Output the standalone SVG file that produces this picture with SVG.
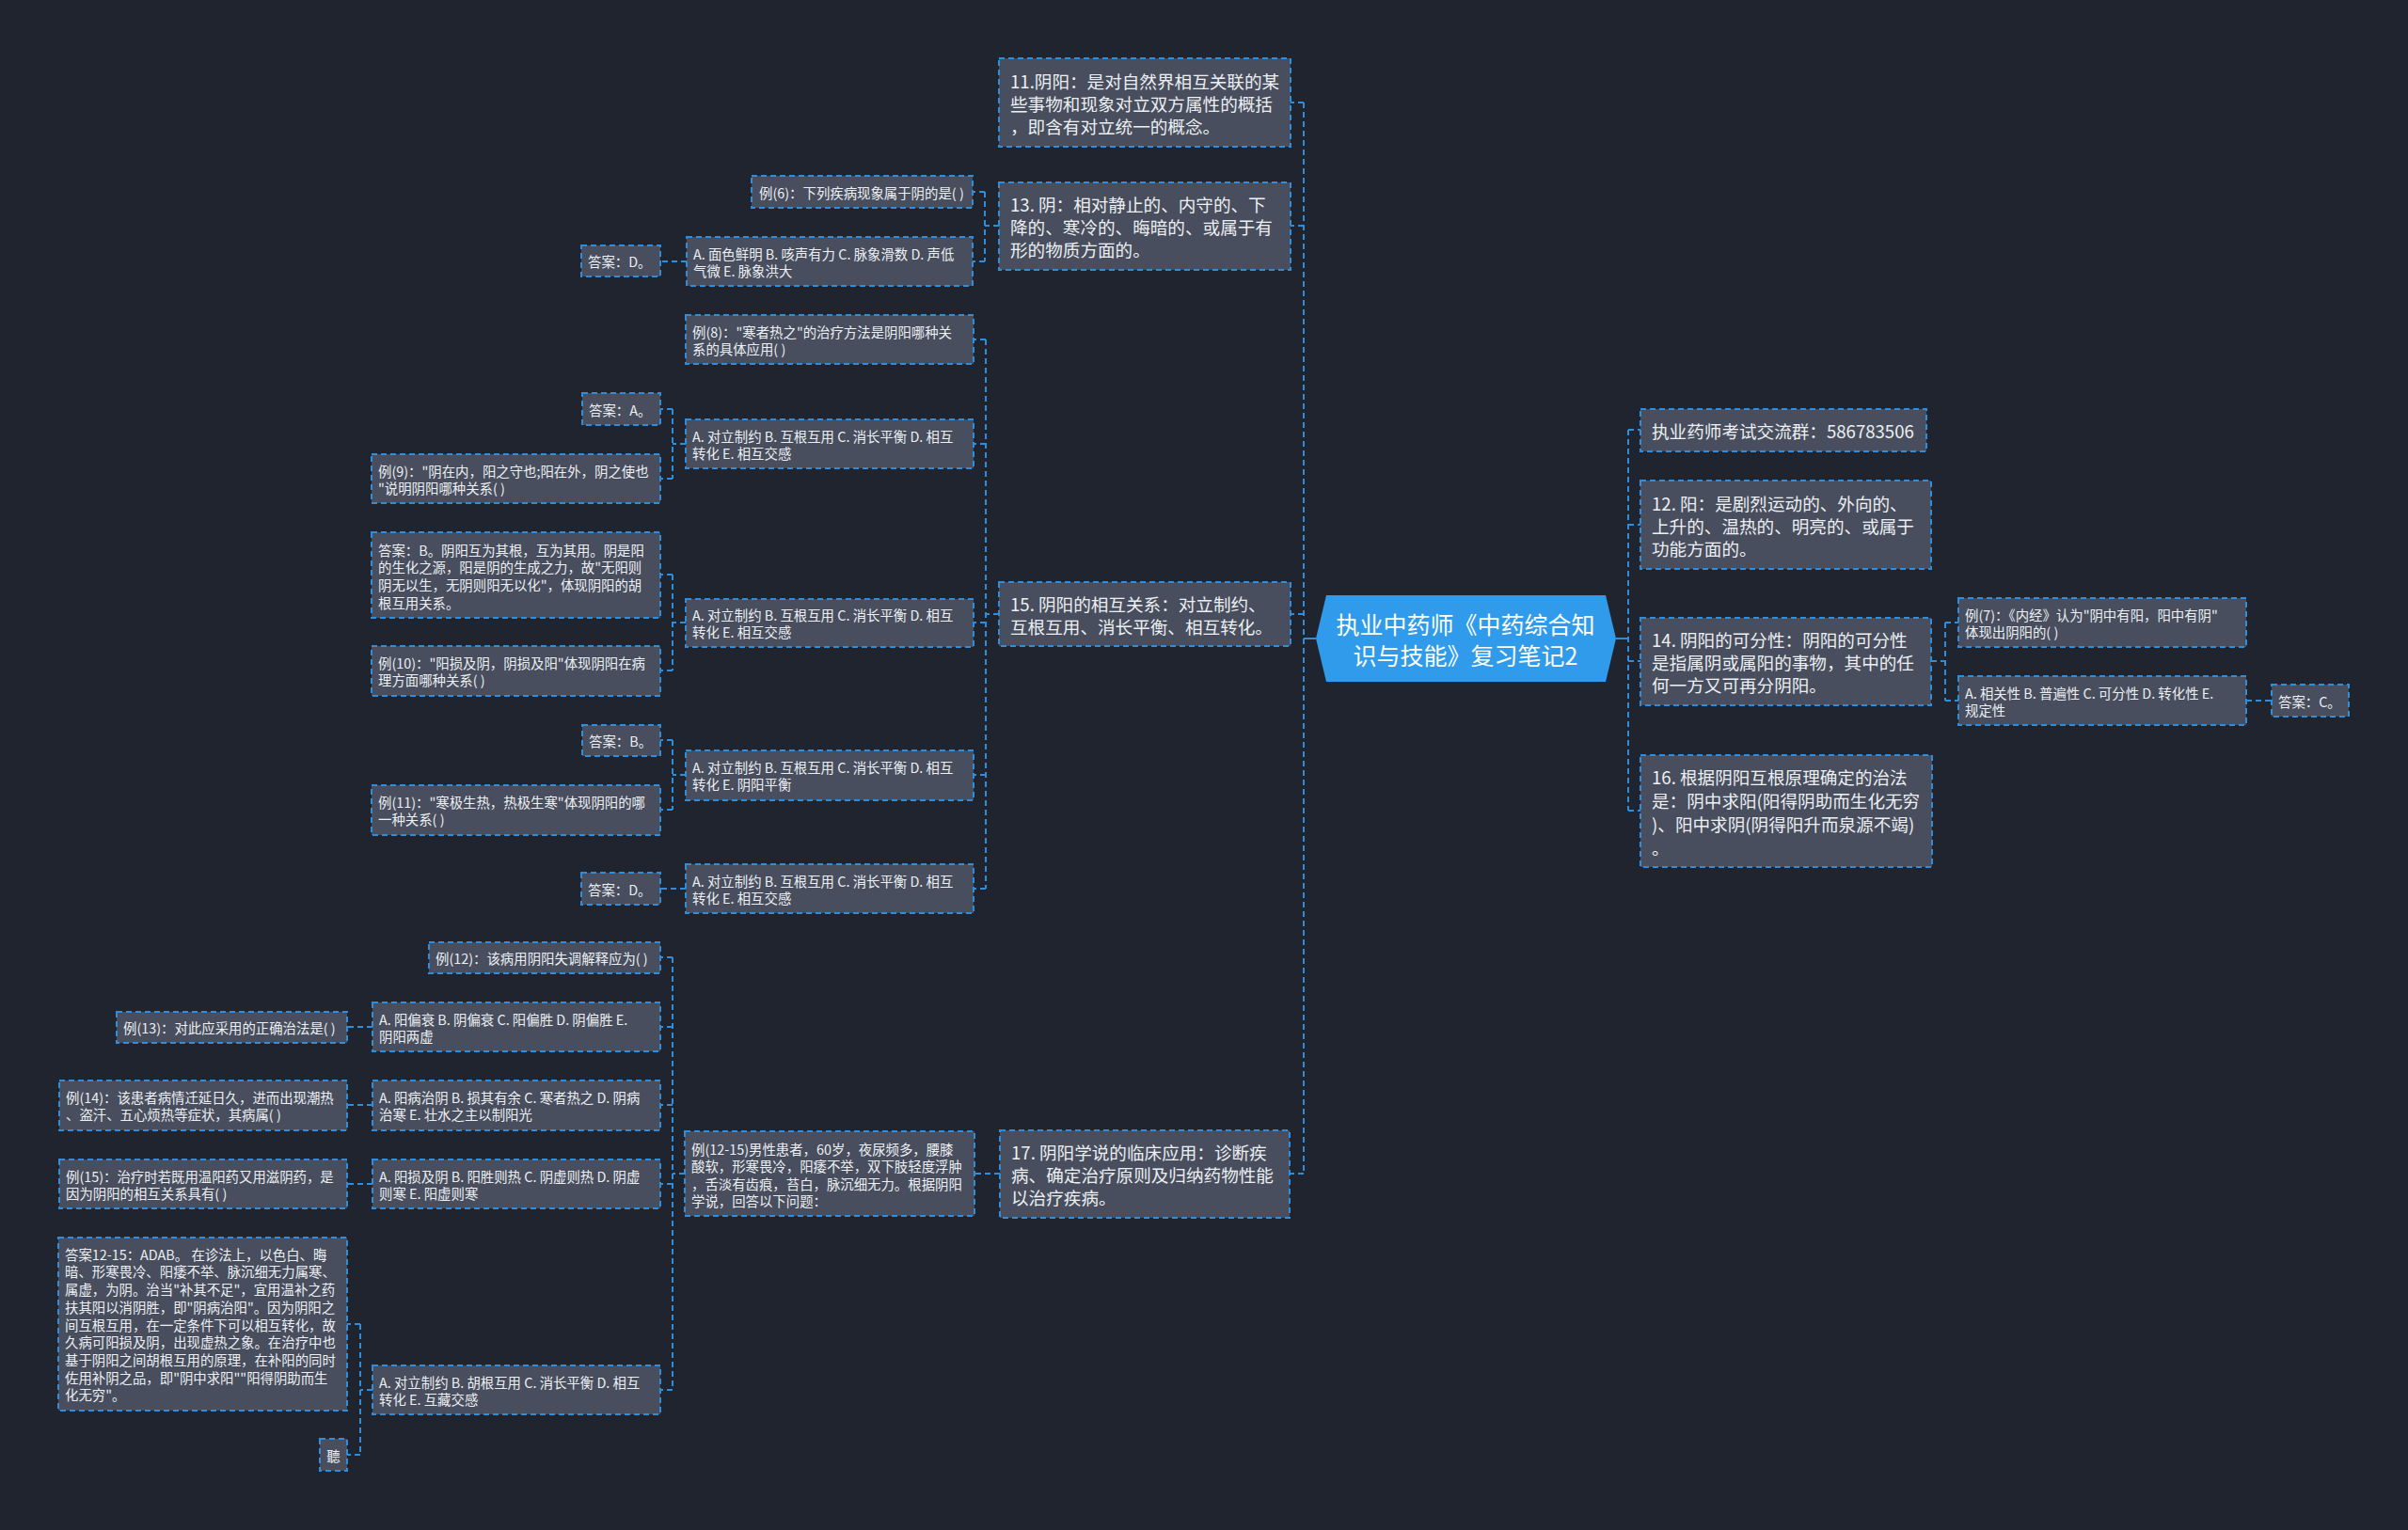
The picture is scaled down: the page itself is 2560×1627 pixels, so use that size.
<svg xmlns="http://www.w3.org/2000/svg" width="2560" height="1627" viewBox="0 0 2560 1627">
<style>
.bg{fill:#20242e}
.n rect{fill:#484e5d;stroke:#2e8edb;stroke-width:2;stroke-dasharray:6 4}
.c path,.c line{fill:none;stroke:#2e8edb;stroke-width:2;stroke-dasharray:6 4}
.c .solid{stroke-dasharray:none}
text{font-family:"Noto Sans CJK SC","Microsoft YaHei",sans-serif;fill:#eceff3;dominant-baseline:central}
.s{font-size:14.4px}
.l{font-size:18.6px}
.root text{font-size:25px;fill:#ffffff;text-anchor:middle}
</style>
<rect class="bg" x="0" y="0" width="2560" height="1627"/>

<g id="connectors" class="c">
  <line class="solid" x1="1399" y1="679" x2="1386" y2="679"/>
  <line class="solid" x1="1718" y1="679" x2="1731" y2="679"/>
  <path d="M1386 109 V1248 M1386 109 H1372 M1386 240 H1372 M1386 653 H1372 M1386 1248 H1372"/>
  <path d="M1731 457 V862 M1731 457 H1744 M1731 558 H1744 M1731 703 H1744 M1731 862 H1744"/>
  <path d="M1062 240 H1047 M1047 204 V278 M1047 204 H1034 M1047 278 H1034"/>
  <path d="M730 278 H702"/>
  <path d="M1062 653 H1048 M1048 361 V945 M1048 361 H1035 M1048 472 H1035 M1048 662 H1035 M1048 824 H1035 M1048 945 H1035"/>
  <path d="M729 472 H715 M715 435 V509 M715 435 H702 M715 509 H702"/>
  <path d="M729 662 H715 M715 611 V713 M715 611 H702 M715 713 H702"/>
  <path d="M729 824 H715 M715 787 V861 M715 787 H702 M715 861 H702"/>
  <path d="M729 945 H702"/>
  <path d="M1063 1248 H1036"/>
  <path d="M728 1248 H715 M715 1018 V1478 M715 1018 H702 M715 1092 H702 M715 1175 H702 M715 1259 H702 M715 1478 H702"/>
  <path d="M396 1092 H369 M396 1175 H369 M396 1259 H369"/>
  <path d="M396 1478 H383 M383 1408 V1547 M383 1408 H369 M383 1547 H369"/>
  <path d="M2053 703 H2068 M2068 662 V745 M2068 662 H2082 M2068 745 H2082"/>
  <path d="M2388 745 H2415"/>
</g>

<g id="root" class="root">
  <path d="M1399 679 L1410 633 H1707 L1718 679 L1707 725 H1410 Z" fill="#2f9bea"/>
  <text x="1558" y="663">执业中药师《中药综合知</text>
  <text x="1558" y="696">识与技能》复习笔记2</text>
</g>

<g id="n11" class="n"><rect x="1062" y="62" width="310" height="94"/>
  <text class="l" x="1074" y="85">11.阴阳：是对自然界相互关联的某</text>
  <text class="l" x="1074" y="109">些事物和现象对立双方属性的概括</text>
  <text class="l" x="1074" y="133">，即含有对立统一的概念。</text></g>
<g id="n13" class="n"><rect x="1062" y="194" width="310" height="93"/>
  <text class="l" x="1074" y="216.5">13. 阴：相对静止的、内守的、下</text>
  <text class="l" x="1074" y="240.5">降的、寒冷的、晦暗的、或属于有</text>
  <text class="l" x="1074" y="264.5">形的物质方面的。</text></g>
<g id="n15" class="n"><rect x="1062" y="619" width="310" height="68"/>
  <text class="l" x="1074" y="641">15. 阴阳的相互关系：对立制约、</text>
  <text class="l" x="1074" y="665">互根互用、消长平衡、相互转化。</text></g>
<g id="n17" class="n"><rect x="1063" y="1202" width="308" height="93"/>
  <text class="l" x="1075" y="1224.5">17. 阴阳学说的临床应用：诊断疾</text>
  <text class="l" x="1075" y="1248.5">病、确定治疗原则及归纳药物性能</text>
  <text class="l" x="1075" y="1272.5">以治疗疾病。</text></g>

<g id="e6" class="n"><rect x="799" y="187" width="235" height="34"/>
  <text class="s" x="807" y="204">例(6)：下列疾病现象属于阴的是( )</text></g>
<g id="a6" class="n"><rect x="730" y="252" width="304" height="52"/>
  <text class="s" x="737" y="269">A. 面色鲜明 B. 咳声有力 C. 脉象滑数 D. 声低</text>
  <text class="s" x="737" y="287">气微 E. 脉象洪大</text></g>
<g id="ans6" class="n"><rect x="618" y="261" width="84" height="33"/>
  <text class="s" x="625" y="277.5">答案：D。</text></g>

<g id="e8" class="n"><rect x="729" y="335" width="306" height="52"/>
  <text class="s" x="736" y="352">例(8)："寒者热之"的治疗方法是阴阳哪种关</text>
  <text class="s" x="736" y="370">系的具体应用( )</text></g>
<g id="a8" class="n"><rect x="729" y="446" width="306" height="52"/>
  <text class="s" x="736" y="463">A. 对立制约 B. 互根互用 C. 消长平衡 D. 相互</text>
  <text class="s" x="736" y="481">转化 E. 相互交感</text></g>
<g id="ans8" class="n"><rect x="619" y="418" width="83" height="34"/>
  <text class="s" x="626" y="435">答案：A。</text></g>
<g id="e9" class="n"><rect x="395" y="483" width="307" height="52"/>
  <text class="s" x="402" y="500">例(9)："阴在内，阳之守也;阳在外，阴之使也</text>
  <text class="s" x="402" y="518">"说明阴阳哪种关系( )</text></g>

<g id="a9" class="n"><rect x="729" y="637" width="306" height="51"/>
  <text class="s" x="736" y="653.5">A. 对立制约 B. 互根互用 C. 消长平衡 D. 相互</text>
  <text class="s" x="736" y="671.5">转化 E. 相互交感</text></g>
<g id="ans9" class="n"><rect x="395" y="566" width="307" height="91"/>
  <text class="s" x="402" y="584">答案：B。阴阳互为其根，互为其用。阴是阳</text>
  <text class="s" x="402" y="602.7">的生化之源，阳是阴的生成之力，故"无阳则</text>
  <text class="s" x="402" y="621.4">阴无以生，无阴则阳无以化"，体现阴阳的胡</text>
  <text class="s" x="402" y="640.1">根互用关系。</text></g>
<g id="e10" class="n"><rect x="395" y="687" width="307" height="53"/>
  <text class="s" x="402" y="704.5">例(10)："阳损及阴，阴损及阳"体现阴阳在病</text>
  <text class="s" x="402" y="722.5">理方面哪种关系( )</text></g>

<g id="a10" class="n"><rect x="729" y="798" width="306" height="53"/>
  <text class="s" x="736" y="815.5">A. 对立制约 B. 互根互用 C. 消长平衡 D. 相互</text>
  <text class="s" x="736" y="833.5">转化 E. 阴阳平衡</text></g>
<g id="ans10" class="n"><rect x="619" y="771" width="83" height="33"/>
  <text class="s" x="626" y="787.5">答案：B。</text></g>
<g id="e11" class="n"><rect x="395" y="835" width="307" height="53"/>
  <text class="s" x="402" y="852.5">例(11)："寒极生热，热极生寒"体现阴阳的哪</text>
  <text class="s" x="402" y="870.5">一种关系( )</text></g>

<g id="a11" class="n"><rect x="729" y="919" width="306" height="52"/>
  <text class="s" x="736" y="936">A. 对立制约 B. 互根互用 C. 消长平衡 D. 相互</text>
  <text class="s" x="736" y="954">转化 E. 相互交感</text></g>
<g id="ans11" class="n"><rect x="618" y="928" width="84" height="34"/>
  <text class="s" x="625" y="945">答案：D。</text></g>

<g id="e1215" class="n"><rect x="728" y="1203" width="308" height="90"/>
  <text class="s" x="735" y="1221">例(12-15)男性患者，60岁，夜尿频多，腰膝</text>
  <text class="s" x="735" y="1239.5">酸软，形寒畏冷，阳痿不举，双下肢轻度浮肿</text>
  <text class="s" x="735" y="1258">，舌淡有齿痕，苔白，脉沉细无力。根据阴阳</text>
  <text class="s" x="735" y="1276.5">学说，回答以下问题：</text></g>
<g id="e12" class="n"><rect x="456" y="1002" width="246" height="33"/>
  <text class="s" x="463" y="1018.5">例(12)：该病用阴阳失调解释应为( )</text></g>
<g id="a12" class="n"><rect x="396" y="1066" width="306" height="52"/>
  <text class="s" x="403" y="1083">A. 阳偏衰 B. 阴偏衰 C. 阳偏胜 D. 阴偏胜 E.</text>
  <text class="s" x="403" y="1101">阴阳两虚</text></g>
<g id="e13" class="n"><rect x="124" y="1076" width="245" height="33"/>
  <text class="s" x="131" y="1092.5">例(13)：对此应采用的正确治法是( )</text></g>
<g id="a13" class="n"><rect x="396" y="1149" width="306" height="53"/>
  <text class="s" x="403" y="1166.5">A. 阳病治阴 B. 损其有余 C. 寒者热之 D. 阴病</text>
  <text class="s" x="403" y="1184.5">治寒 E. 壮水之主以制阳光</text></g>
<g id="e14" class="n"><rect x="63" y="1149" width="306" height="53"/>
  <text class="s" x="70" y="1166.5">例(14)：该患者病情迁延日久，进而出现潮热</text>
  <text class="s" x="70" y="1184.5">、盗汗、五心烦热等症状，其病属( )</text></g>
<g id="a14" class="n"><rect x="396" y="1233" width="306" height="52"/>
  <text class="s" x="403" y="1250">A. 阳损及阴 B. 阳胜则热 C. 阴虚则热 D. 阴虚</text>
  <text class="s" x="403" y="1268">则寒 E. 阳虚则寒</text></g>
<g id="e15" class="n"><rect x="63" y="1233" width="306" height="52"/>
  <text class="s" x="70" y="1250">例(15)：治疗时若既用温阳药又用滋阴药，是</text>
  <text class="s" x="70" y="1268">因为阴阳的相互关系具有( )</text></g>
<g id="a15" class="n"><rect x="396" y="1452" width="306" height="52"/>
  <text class="s" x="403" y="1469">A. 对立制约 B. 胡根互用 C. 消长平衡 D. 相互</text>
  <text class="s" x="403" y="1487">转化 E. 互藏交感</text></g>
<g id="ans15" class="n"><rect x="62" y="1316" width="307" height="184"/>
  <text class="s" x="69" y="1333.2">答案12-15：ADAB。 在诊法上，以色白、晦</text>
  <text class="s" x="69" y="1351.9">暗、形寒畏冷、阳痿不举、脉沉细无力属寒、</text>
  <text class="s" x="69" y="1370.6">属虚，为阴。治当"补其不足"，宜用温补之药</text>
  <text class="s" x="69" y="1389.3">扶其阳以消阴胜，即"阴病治阳"。因为阴阳之</text>
  <text class="s" x="69" y="1408">间互根互用，在一定条件下可以相互转化，故</text>
  <text class="s" x="69" y="1426.7">久病可阳损及阴，出现虚热之象。在治疗中也</text>
  <text class="s" x="69" y="1445.4">基于阴阳之间胡根互用的原理，在补阳的同时</text>
  <text class="s" x="69" y="1464.1">佐用补阴之品，即"阴中求阳""阳得阴助而生</text>
  <text class="s" x="69" y="1482.8">化无穷"。</text></g>
<g id="ting" class="n"><rect x="340" y="1530" width="29" height="34"/>
  <text class="s" x="354.5" y="1547" text-anchor="middle">聽</text></g>

<g id="r1" class="n"><rect x="1744" y="435" width="304" height="45"/>
  <text class="l" x="1756" y="457.5">执业药师考试交流群：586783506</text></g>
<g id="n12" class="n"><rect x="1744" y="511" width="309" height="94"/>
  <text class="l" x="1756" y="534">12. 阳：是剧烈运动的、外向的、</text>
  <text class="l" x="1756" y="558">上升的、温热的、明亮的、或属于</text>
  <text class="l" x="1756" y="582">功能方面的。</text></g>
<g id="n14" class="n"><rect x="1744" y="657" width="309" height="93"/>
  <text class="l" x="1756" y="679.5">14. 阴阳的可分性：阴阳的可分性</text>
  <text class="l" x="1756" y="703.5">是指属阴或属阳的事物，其中的任</text>
  <text class="l" x="1756" y="727.5">何一方又可再分阴阳。</text></g>
<g id="e7" class="n"><rect x="2082" y="636" width="306" height="52"/>
  <text class="s" x="2089" y="653">例(7)：《内经》认为"阴中有阳，阳中有阴"</text>
  <text class="s" x="2089" y="671">体现出阴阳的( )</text></g>
<g id="a7" class="n"><rect x="2082" y="719" width="306" height="52"/>
  <text class="s" x="2089" y="736">A. 相关性 B. 普遍性 C. 可分性 D. 转化性 E.</text>
  <text class="s" x="2089" y="754">规定性</text></g>
<g id="ans7" class="n"><rect x="2415" y="728" width="82" height="34"/>
  <text class="s" x="2422" y="745">答案：C。</text></g>
<g id="n16" class="n"><rect x="1744" y="803" width="310" height="119"/>
  <text class="l" x="1756" y="825">16. 根据阴阳互根原理确定的治法</text>
  <text class="l" x="1756" y="850">是：阴中求阳(阳得阴助而生化无穷</text>
  <text class="l" x="1756" y="875">)、阳中求阴(阴得阳升而泉源不竭)</text>
  <text class="l" x="1756" y="900">。</text></g>
</svg>
